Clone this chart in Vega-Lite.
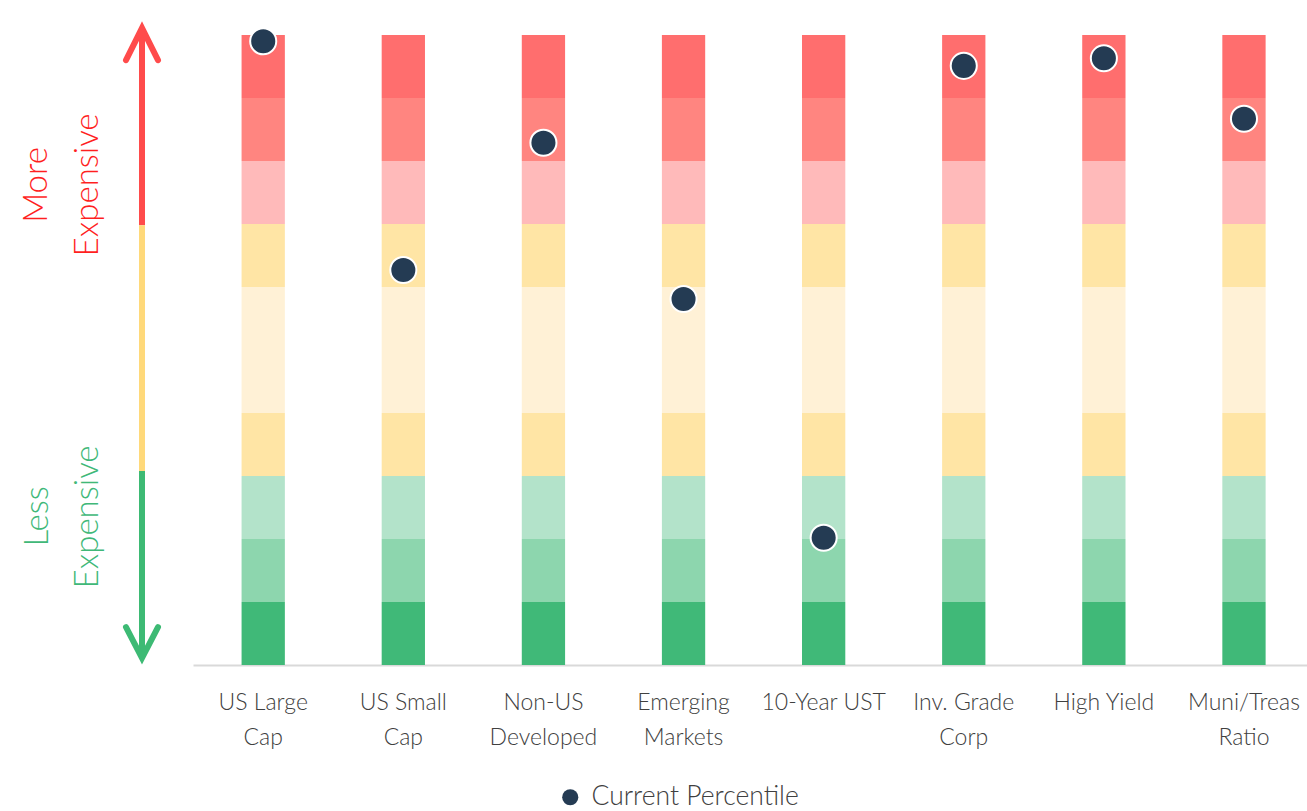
{
  "$schema": "https://vega.github.io/schema/vega-lite/v6.json",
  "padding": {"left": 0, "top": 16, "right": 0, "bottom": 2},
  "background": "white",
  "bounds": "flush",
  "spacing": 0,
  "config": {
    "view": {"stroke": null},
    "font": "Lato",
    "text": {"font": "Lato"}
  },
  "resolve": {"scale": {"color": "independent", "fill": "independent"}, "legend": {"color": "independent", "fill": "independent"}},
  "datasets": {
    "bands": [
      {"category": "US Large Cap", "band": 1, "lo": 0, "hi": 10}, {"category": "US Large Cap", "band": 2, "lo": 10, "hi": 20}, {"category": "US Large Cap", "band": 3, "lo": 20, "hi": 30}, {"category": "US Large Cap", "band": 4, "lo": 30, "hi": 40}, {"category": "US Large Cap", "band": 5, "lo": 40, "hi": 60}, {"category": "US Large Cap", "band": 6, "lo": 60, "hi": 70}, {"category": "US Large Cap", "band": 7, "lo": 70, "hi": 80}, {"category": "US Large Cap", "band": 8, "lo": 80, "hi": 90}, {"category": "US Large Cap", "band": 9, "lo": 90, "hi": 100},
      {"category": "US Small Cap", "band": 1, "lo": 0, "hi": 10}, {"category": "US Small Cap", "band": 2, "lo": 10, "hi": 20}, {"category": "US Small Cap", "band": 3, "lo": 20, "hi": 30}, {"category": "US Small Cap", "band": 4, "lo": 30, "hi": 40}, {"category": "US Small Cap", "band": 5, "lo": 40, "hi": 60}, {"category": "US Small Cap", "band": 6, "lo": 60, "hi": 70}, {"category": "US Small Cap", "band": 7, "lo": 70, "hi": 80}, {"category": "US Small Cap", "band": 8, "lo": 80, "hi": 90}, {"category": "US Small Cap", "band": 9, "lo": 90, "hi": 100},
      {"category": "Non-US Developed", "band": 1, "lo": 0, "hi": 10}, {"category": "Non-US Developed", "band": 2, "lo": 10, "hi": 20}, {"category": "Non-US Developed", "band": 3, "lo": 20, "hi": 30}, {"category": "Non-US Developed", "band": 4, "lo": 30, "hi": 40}, {"category": "Non-US Developed", "band": 5, "lo": 40, "hi": 60}, {"category": "Non-US Developed", "band": 6, "lo": 60, "hi": 70}, {"category": "Non-US Developed", "band": 7, "lo": 70, "hi": 80}, {"category": "Non-US Developed", "band": 8, "lo": 80, "hi": 90}, {"category": "Non-US Developed", "band": 9, "lo": 90, "hi": 100},
      {"category": "Emerging Markets", "band": 1, "lo": 0, "hi": 10}, {"category": "Emerging Markets", "band": 2, "lo": 10, "hi": 20}, {"category": "Emerging Markets", "band": 3, "lo": 20, "hi": 30}, {"category": "Emerging Markets", "band": 4, "lo": 30, "hi": 40}, {"category": "Emerging Markets", "band": 5, "lo": 40, "hi": 60}, {"category": "Emerging Markets", "band": 6, "lo": 60, "hi": 70}, {"category": "Emerging Markets", "band": 7, "lo": 70, "hi": 80}, {"category": "Emerging Markets", "band": 8, "lo": 80, "hi": 90}, {"category": "Emerging Markets", "band": 9, "lo": 90, "hi": 100},
      {"category": "10-Year UST", "band": 1, "lo": 0, "hi": 10}, {"category": "10-Year UST", "band": 2, "lo": 10, "hi": 20}, {"category": "10-Year UST", "band": 3, "lo": 20, "hi": 30}, {"category": "10-Year UST", "band": 4, "lo": 30, "hi": 40}, {"category": "10-Year UST", "band": 5, "lo": 40, "hi": 60}, {"category": "10-Year UST", "band": 6, "lo": 60, "hi": 70}, {"category": "10-Year UST", "band": 7, "lo": 70, "hi": 80}, {"category": "10-Year UST", "band": 8, "lo": 80, "hi": 90}, {"category": "10-Year UST", "band": 9, "lo": 90, "hi": 100},
      {"category": "Inv. Grade Corp", "band": 1, "lo": 0, "hi": 10}, {"category": "Inv. Grade Corp", "band": 2, "lo": 10, "hi": 20}, {"category": "Inv. Grade Corp", "band": 3, "lo": 20, "hi": 30}, {"category": "Inv. Grade Corp", "band": 4, "lo": 30, "hi": 40}, {"category": "Inv. Grade Corp", "band": 5, "lo": 40, "hi": 60}, {"category": "Inv. Grade Corp", "band": 6, "lo": 60, "hi": 70}, {"category": "Inv. Grade Corp", "band": 7, "lo": 70, "hi": 80}, {"category": "Inv. Grade Corp", "band": 8, "lo": 80, "hi": 90}, {"category": "Inv. Grade Corp", "band": 9, "lo": 90, "hi": 100},
      {"category": "High Yield", "band": 1, "lo": 0, "hi": 10}, {"category": "High Yield", "band": 2, "lo": 10, "hi": 20}, {"category": "High Yield", "band": 3, "lo": 20, "hi": 30}, {"category": "High Yield", "band": 4, "lo": 30, "hi": 40}, {"category": "High Yield", "band": 5, "lo": 40, "hi": 60}, {"category": "High Yield", "band": 6, "lo": 60, "hi": 70}, {"category": "High Yield", "band": 7, "lo": 70, "hi": 80}, {"category": "High Yield", "band": 8, "lo": 80, "hi": 90}, {"category": "High Yield", "band": 9, "lo": 90, "hi": 100},
      {"category": "Muni/Treas Ratio", "band": 1, "lo": 0, "hi": 10}, {"category": "Muni/Treas Ratio", "band": 2, "lo": 10, "hi": 20}, {"category": "Muni/Treas Ratio", "band": 3, "lo": 20, "hi": 30}, {"category": "Muni/Treas Ratio", "band": 4, "lo": 30, "hi": 40}, {"category": "Muni/Treas Ratio", "band": 5, "lo": 40, "hi": 60}, {"category": "Muni/Treas Ratio", "band": 6, "lo": 60, "hi": 70}, {"category": "Muni/Treas Ratio", "band": 7, "lo": 70, "hi": 80}, {"category": "Muni/Treas Ratio", "band": 8, "lo": 80, "hi": 90}, {"category": "Muni/Treas Ratio", "band": 9, "lo": 90, "hi": 100}
    ],
    "current": [
      {"category": "US Large Cap", "percentile": 99.0, "series": "Current Percentile"},
      {"category": "US Small Cap", "percentile": 62.7, "series": "Current Percentile"},
      {"category": "Non-US Developed", "percentile": 82.9, "series": "Current Percentile"},
      {"category": "Emerging Markets", "percentile": 58.1, "series": "Current Percentile"},
      {"category": "10-Year UST", "percentile": 20.2, "series": "Current Percentile"},
      {"category": "Inv. Grade Corp", "percentile": 95.1, "series": "Current Percentile"},
      {"category": "High Yield", "percentile": 96.3, "series": "Current Percentile"},
      {"category": "Muni/Treas Ratio", "percentile": 86.7, "series": "Current Percentile"}
    ],
    "arrowShaft": [
      {"pos": 142, "from": 100.6, "to": 69.8, "part": "red"},
      {"pos": 142, "from": 69.8, "to": 30.8, "part": "yellow"},
      {"pos": 142, "from": 30.8, "to": 1.4, "part": "green"}
    ],
    "arrowHeads": [
      {"head": "top", "pos": 126, "level": 96.0, "order": 1, "part": "red"},
      {"head": "top", "pos": 142, "level": 101.1, "order": 2, "part": "red"},
      {"head": "top", "pos": 158, "level": 96.0, "order": 3, "part": "red"},
      {"head": "bottom", "pos": 126, "level": 6.0, "order": 1, "part": "green"},
      {"head": "bottom", "pos": 142, "level": 1.1, "order": 2, "part": "green"},
      {"head": "bottom", "pos": 158, "level": 6.0, "order": 3, "part": "green"}
    ],
    "sideText": [
      {"label": "More", "pos": 37, "level": 76.2, "part": "red"},
      {"label": "Expensive", "pos": 88, "level": 76.2, "part": "red"},
      {"label": "Less", "pos": 38, "level": 23.6, "part": "green"},
      {"label": "Expensive", "pos": 88, "level": 23.5, "part": "green"}
    ]
  },
  "hconcat": [
    {
      "width": 193,
      "height": 630,
      "layer": [
        {
          "data": {"name": "arrowShaft"},
          "mark": {"type": "rule", "strokeWidth": 6},
          "encoding": {
            "x": {"field": "pos", "type": "quantitative", "scale": {"domain": [0, 193], "nice": false, "zero": false}, "axis": null},
            "y": {"field": "from", "type": "quantitative", "scale": {"domain": [0, 100], "nice": false}, "axis": null},
            "y2": {"field": "to"},
            "color": {"field": "part", "type": "nominal", "scale": {"domain": ["red", "yellow", "green"], "range": ["#ff4b4b", "#ffd97a", "#3dba74"]}, "legend": null}
          }
        },
        {
          "data": {"name": "arrowHeads"},
          "mark": {"type": "line", "strokeWidth": 6, "strokeCap": "round", "strokeJoin": "miter"},
          "encoding": {
            "x": {"field": "pos", "type": "quantitative"},
            "y": {"field": "level", "type": "quantitative"},
            "order": {"field": "order"},
            "detail": {"field": "head"},
            "color": {"field": "part", "type": "nominal", "legend": null}
          }
        },
        {
          "data": {"name": "sideText"},
          "mark": {"type": "text", "angle": 270, "align": "center", "baseline": "middle", "fontSize": 33, "font": "Lato", "fontWeight": 300},
          "encoding": {
            "x": {"field": "pos", "type": "quantitative"},
            "y": {"field": "level", "type": "quantitative"},
            "text": {"field": "label"},
            "fill": {"field": "part", "type": "nominal", "scale": {"domain": ["red", "green"], "range": ["#ff1f1f", "#40b878"]}, "legend": null}
          }
        }
      ]
    },
    {
      "width": 1114,
      "height": 630,
      "layer": [
        {
          "data": {"name": "bands"},
          "mark": {"type": "bar"},
          "encoding": {
            "x": {
              "field": "category", "type": "nominal", "sort": null,
              "scale": {"paddingInner": 0.691, "paddingOuter": 0.321, "align": 0.54},
              "axis": {
                "title": null, "ticks": false, "domainColor": "#d9d9d9", "domainWidth": 2,
                "labelAngle": 0, "labelFontSize": 23, "labelFont": "Lato", "labelFontWeight": 300, "labelColor": "#404040",
                "labelPadding": 26, "labelLineHeight": 35, "labelBaseline": "top", "labelLimit": 200,
                "labelExpr": "datum.value == '10-Year UST' || datum.value == 'High Yield' ? datum.value : [slice(datum.value, 0, lastindexof(datum.value, ' ')), slice(datum.value, lastindexof(datum.value, ' ') + 1)]"
              }
            },
            "y": {"field": "lo", "type": "quantitative", "scale": {"domain": [0, 100], "nice": false}, "axis": null},
            "y2": {"field": "hi"},
            "color": {
              "field": "band", "type": "ordinal",
              "scale": {"domain": [1, 2, 3, 4, 5, 6, 7, 8, 9], "range": ["#40b978", "#8dd6ae", "#b3e3ca", "#ffe5a5", "#fff1d6", "#ffe5a5", "#ffbaba", "#ff8580", "#ff6e6e"]},
              "legend": null
            }
          }
        },
        {
          "data": {"name": "current"},
          "mark": {"type": "point", "shape": "circle", "filled": true, "size": 680, "stroke": "white", "strokeWidth": 2, "opacity": 1},
          "encoding": {
            "x": {"field": "category", "type": "nominal", "sort": null},
            "y": {"field": "percentile", "type": "quantitative"},
            "fill": {
              "field": "series", "type": "nominal",
              "scale": {"domain": ["Current Percentile"], "range": ["#243b53"]},
              "legend": {
                "title": null, "orient": "none", "legendX": 364, "legendY": 749,
                "symbolType": "circle", "symbolSize": 260, "symbolStrokeWidth": 0,
                "labelFontSize": 26.5, "labelFont": "Lato", "labelFontWeight": 300, "labelColor": "#404040", "labelLimit": 400, "labelOffset": 8
              }
            }
          }
        }
      ]
    }
  ]
}
